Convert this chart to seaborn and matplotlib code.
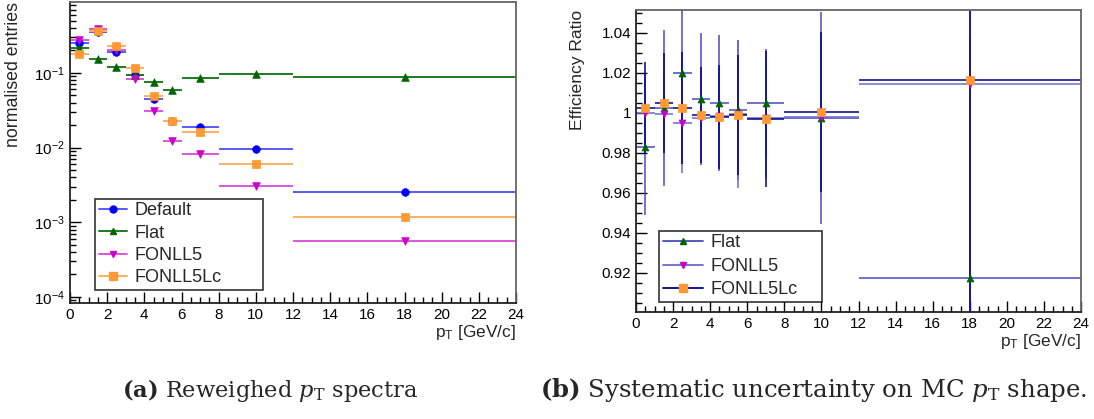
import numpy as np
import pandas as pd
import matplotlib
matplotlib.use("Agg")
import matplotlib.pyplot as plt
import seaborn as sns
from matplotlib.lines import Line2D
from matplotlib.ticker import MultipleLocator, FuncFormatter, LogLocator, NullFormatter

# ---- data ----
bin_lo = [0, 1, 2, 3, 4, 5, 6, 8, 12]
bin_hi = [1, 2, 3, 4, 5, 6, 8, 12, 24]
pt_center = [0.5, 1.5, 2.5, 3.5, 4.5, 5.5, 7, 10, 18]

spec_default = [0.255, 0.357, 0.193, 0.094, 0.0445, 0.0225, 0.0191, 0.0096, 0.00258]
spec_flat = [0.214, 0.154, 0.119, 0.095, 0.075, 0.059, 0.0865, 0.097, 0.0875]
spec_fonll5 = [0.277, 0.385, 0.200, 0.082, 0.031, 0.0124, 0.0082, 0.00307, 0.000569]
spec_fonll5lc = [0.180, 0.365, 0.232, 0.116, 0.0497, 0.0225, 0.0161, 0.0060, 0.00117]

ratio_flat = [0.983, 1.0023, 1.0202, 1.0068, 1.0052, 1.0013, 1.0048, 0.9977, 0.9173]
ratio_flat_err = [0.034, 0.039, 0.045, 0.033, 0.034, 0.035, 0.027, 0.053, 0.12]
ratio_fonll5 = [1.0002, 0.9993, 0.9948, 0.9973, 0.9985, 0.9995, 0.9973, 0.9982, 1.0146]
ratio_fonll5_err = [0.020, 0.022, 0.025, 0.022, 0.024, 0.037, 0.030, 0.040, 0.12]
ratio_fonll5lc = [1.0027, 1.0048, 1.0023, 0.9988, 0.9982, 0.9988, 0.9968, 1.0005, 1.0163]
ratio_fonll5lc_err = [0.023, 0.025, 0.028, 0.024, 0.026, 0.030, 0.034, 0.040, 0.12]

sns.set_theme(style="ticks")
plt.rcParams['font.family'] = ['Liberation Sans', 'DejaVu Sans']
plt.rcParams['mathtext.fontset'] = 'custom'
plt.rcParams['mathtext.rm'] = 'Liberation Sans'
plt.rcParams['mathtext.it'] = 'Liberation Sans:italic'

fig = plt.figure(figsize=(10.94, 4.19), dpi=100)
ax1 = fig.add_axes([0.064, 0.2768, 0.4077, 0.7184])
ax2 = fig.add_axes([0.5814, 0.2554, 0.4068, 0.7208])

xc = np.array(pt_center)
xerr = [xc - np.array(bin_lo), np.array(bin_hi) - xc]

def style_axes(ax):
    for s in ['left', 'bottom']:
        ax.spines[s].set_color('#222222')
        ax.spines[s].set_linewidth(1.3)
    for s in ['top', 'right']:
        ax.spines[s].set_color('#666666')
        ax.spines[s].set_linewidth(1.3)
    ax.tick_params(which='both', direction='in', top=False, right=False,
                   labelsize=11, colors='black')
    ax.tick_params(which='major', length=8, width=1)
    ax.tick_params(which='minor', length=4, width=1)
    ax.set_xlim(0, 24)
    ax.xaxis.set_major_locator(MultipleLocator(2))
    ax.xaxis.set_minor_locator(MultipleLocator(0.5))
    ax.set_xlabel(r'$\mathregular{p_T}$ [GeV/c]', fontsize=12.4, loc='right', labelpad=1)
    ax.grid(False)

# ---- left panel ----
series_left = [
    ("Default", spec_default, '#0000ff', '#5a5aff', 'o', 5.5),
    ("Flat", spec_flat, '#006400', '#1f7a1f', '^', 5.5),
    ("FONLL5", spec_fonll5, '#cc00cc', '#dd55dd', 'v', 5.5),
    ("FONLL5Lc", spec_fonll5lc, '#ff9933', '#ffb060', 's', 6),
]
handles = []
for name, vals, mcol, lcol, mk, ms in series_left:
    ax1.errorbar(xc, vals, xerr=xerr, fmt='none', ecolor=lcol, elinewidth=1.4, capsize=0)
    df = pd.DataFrame({'pt': xc, 'v': vals})
    sns.scatterplot(data=df, x='pt', y='v', ax=ax1, marker=mk, color=mcol,
                    s=ms**2, edgecolor=mcol, linewidth=0.5, legend=False, zorder=3)
    handles.append(Line2D([], [], color=lcol, marker=mk, markersize=ms - 0.5,
                          markerfacecolor=mcol, markeredgecolor=mcol, lw=1.4))
ax1.set_yscale('log')
ax1.set_ylim(8.3e-5, 0.89)
ax1.yaxis.set_major_locator(LogLocator(base=10, numticks=10))
ax1.yaxis.set_minor_locator(LogLocator(base=10, subs=np.arange(2, 10), numticks=50))
ax1.yaxis.set_minor_formatter(NullFormatter())
style_axes(ax1)
ax1.set_ylabel('normalised entries', fontsize=12.8, loc='top', labelpad=9)
leg1 = ax1.legend(handles, [s[0] for s in series_left], loc='lower left',
                  bbox_to_anchor=(0.056, 0.043, 0.377, 0.3), mode='expand',
                  frameon=True, fontsize=13,
                  handlelength=1.6, handletextpad=0.4, borderpad=0.2,
                  labelspacing=0.3, fancybox=False, edgecolor='black',
                  borderaxespad=0)
leg1.get_frame().set_linewidth(1.2)

# ---- right panel ----
series_right = [
    ("Flat", ratio_flat, ratio_flat_err, '#006400', '#4a4ac0', '^', 5),
    ("FONLL5", ratio_fonll5, ratio_fonll5_err, '#cc00cc', '#6a6ad0', 'v', 5),
    ("FONLL5Lc", ratio_fonll5lc, ratio_fonll5lc_err, '#ff9933', '#00008b', 's', 6.2),
]
handles2 = []
for name, vals, errs, mcol, lcol, mk, ms in series_right:
    ax2.errorbar(xc, vals, xerr=xerr, yerr=errs, fmt='none', ecolor=lcol,
                 elinewidth=1.1, capsize=0)
    df = pd.DataFrame({'pt': xc, 'v': vals})
    sns.scatterplot(data=df, x='pt', y='v', ax=ax2, marker=mk, color=mcol,
                    s=ms**2, edgecolor=mcol, linewidth=0.5, legend=False, zorder=3)
    handles2.append(Line2D([], [], color=lcol, marker=mk, markersize=ms,
                           markerfacecolor=mcol, markeredgecolor=mcol, lw=1.3))
ax2.set_ylim(0.9005, 1.0515)
ax2.yaxis.set_major_locator(MultipleLocator(0.02))
ax2.yaxis.set_minor_locator(MultipleLocator(0.005))
ax2.yaxis.set_major_formatter(FuncFormatter(lambda v, p: f"{v:.2f}".rstrip('0').rstrip('.')))
style_axes(ax2)
ax2.set_ylabel('Efficiency Ratio', fontsize=12.6, loc='top', labelpad=12)
leg2 = ax2.legend(handles2, [s[0] for s in series_right], loc='lower left',
                  bbox_to_anchor=(0.052, 0.033, 0.366, 0.25), mode='expand',
                  frameon=True, fontsize=13,
                  handlelength=2.2, handletextpad=0.45, borderpad=0.2,
                  labelspacing=0.36, fancybox=False, edgecolor='black',
                  borderaxespad=0)
leg2.get_frame().set_linewidth(1.2)

# ---- captions ----
cap_font = ['DejaVu Serif']
fig.text(0.1115, 0.069, r'$\mathbf{(a)}$ Reweighed $p_{\mathrm{T}}$ spectra', fontsize=16.2,
         family=cap_font, ha='left', va='center', math_fontfamily='dejavuserif')
fig.text(0.4936, 0.069, r'$\mathbf{(b)}$ Systematic uncertainty on MC $p_{\mathrm{T}}$ shape.',
         fontsize=17.6, family=cap_font, ha='left', va='center', math_fontfamily='dejavuserif')

fig.savefig('out.png', dpi=100)
